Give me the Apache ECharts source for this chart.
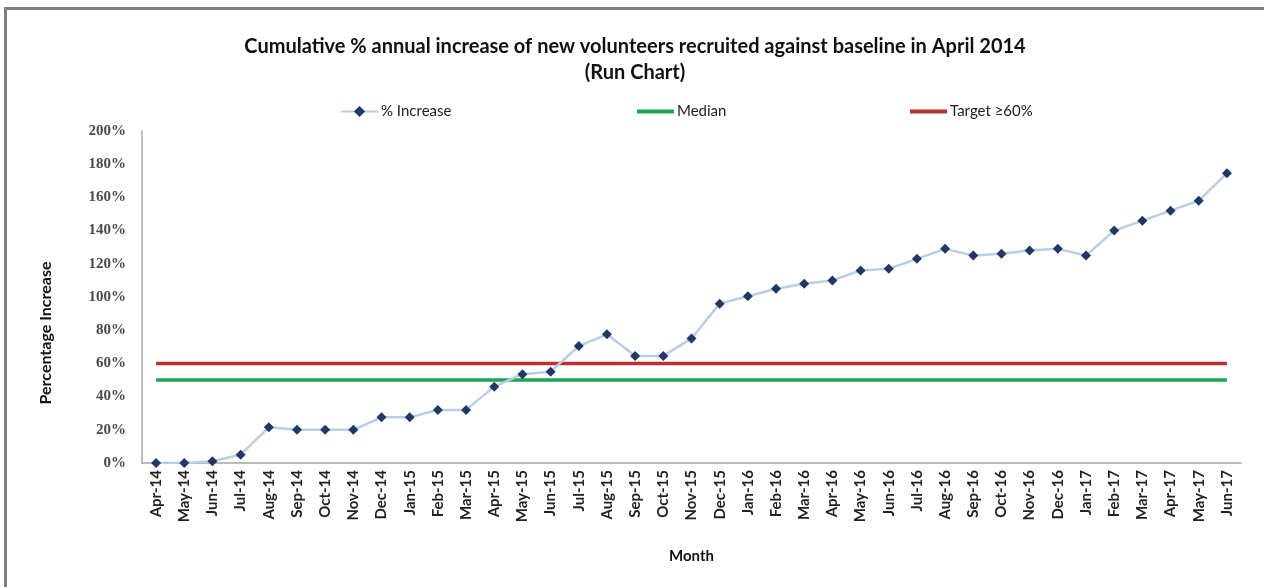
<!DOCTYPE html>
<html>
<head>
<meta charset="utf-8">
<script src="https://cdn.jsdelivr.net/npm/echarts@6/dist/echarts.min.js"></script>
<style>
  html, body { margin: 0; padding: 0; background: #fff; }
  #chart { width: 1264px; height: 587px; }
</style>
</head>
<body>
<div id="chart"></div>
<script>
// months on the x axis
const months = [
  'Apr-14', 'May-14', 'Jun-14', 'Jul-14', 'Aug-14', 'Sep-14', 'Oct-14', 'Nov-14', 'Dec-14',
  'Jan-15', 'Feb-15', 'Mar-15', 'Apr-15', 'May-15', 'Jun-15', 'Jul-15', 'Aug-15', 'Sep-15',
  'Oct-15', 'Nov-15', 'Dec-15', 'Jan-16', 'Feb-16', 'Mar-16', 'Apr-16', 'May-16', 'Jun-16',
  'Jul-16', 'Aug-16', 'Sep-16', 'Oct-16', 'Nov-16', 'Dec-16', 'Jan-17', 'Feb-17', 'Mar-17',
  'Apr-17', 'May-17', 'Jun-17'
]
// cumulative % increase
const increase = [
  0, 0, 1, 5, 21.5, 20, 20, 20, 27.5,
  27.5, 32, 32, 46, 53.5, 55, 70.5, 77.5, 64.5,
  64.5, 75, 96, 100.5, 105, 108, 110, 116, 117,
  123, 129, 125, 126, 128, 129, 125, 140, 146,
  152, 158, 174.5
]
const medianValue = 50
const targetValue = 60
const yTicks = { min: 0, max: 200, interval: 20 }

const median = months.map(() => medianValue)
const target = months.map(() => targetValue)

const font = 'Lato, "Open Sans", sans-serif'
const myChart = echarts.init(document.getElementById('chart'))

const legendText = { fontFamily: font, fontSize: 15, color: '#222', padding: [0, 0, 0, -2] }

const option = {
  animation: false,
  backgroundColor: '#fff',
  title: {
    text: 'Cumulative % annual increase of new volunteers recruited against baseline in April 2014\n(Run Chart)',
    left: 630,
    textAlign: 'center',
    top: 29,
    textStyle: {
      fontFamily: font,
      fontWeight: 'bold',
      fontSize: 20,
      lineHeight: 26,
      color: '#111'
    }
  },
  legend: [
    { data: ['% Increase'], left: 335, top: 99, itemWidth: 37, itemHeight: 14, textStyle: legendText },
    { data: [{ name: 'Median', icon: 'rect' }], left: 632, top: 99, itemWidth: 37, itemHeight: 4, textStyle: legendText },
    { data: [{ name: 'Target ≥60%', icon: 'rect' }], left: 905, top: 99, itemWidth: 37, itemHeight: 4, textStyle: legendText }
  ],
  grid: {
    left: 142,
    right: 23,
    top: 131,
    bottom: 124,
    containLabel: false
  },
  xAxis: {
    type: 'category',
    data: months,
    boundaryGap: true,
    name: 'Month',
    nameLocation: 'middle',
    nameGap: 86,
    nameTextStyle: { fontFamily: font, fontWeight: 'bold', fontSize: 15, color: '#111' },
    axisLine: { lineStyle: { color: '#a6a6a6', width: 1.5 } },
    axisTick: { show: false },
    axisLabel: {
      interval: 0,
      rotate: 90,
      margin: 7,
      fontFamily: font,
      fontWeight: 'bold',
      fontSize: 15,
      color: '#222'
    }
  },
  yAxis: {
    type: 'value',
    min: yTicks.min,
    max: yTicks.max,
    interval: yTicks.interval,
    name: 'Percentage Increase',
    nameLocation: 'middle',
    nameGap: 88,
    nameTextStyle: {
      fontFamily: font, fontWeight: 'bold', fontSize: 16, color: '#111',
      padding: [0, 72, 0, 0]
    },
    splitLine: { show: false },
    axisTick: { show: false },
    axisLine: { show: true, lineStyle: { color: '#a6a6a6', width: 1.5 } },
    axisLabel: {
      formatter: '{value}%',
      margin: 16,
      fontFamily: '"Liberation Serif", serif',
      fontWeight: 'bold',
      fontSize: 15,
      color: '#4a4a4a'
    }
  },
  series: [
    {
      name: '% Increase',
      type: 'line',
      data: increase,
      symbol: 'diamond',
      symbolSize: 10,
      z: 5,
      color: '#1f3864',
      lineStyle: { color: '#b9cde5', width: 2.5 },
      itemStyle: { color: '#1f3864' }
    },
    {
      name: 'Median',
      type: 'line',
      data: median,
      symbol: 'none',
      color: '#1fa455',
      lineStyle: { color: '#1fa455', width: 3.5 }
    },
    {
      name: 'Target ≥60%',
      type: 'line',
      data: target,
      symbol: 'none',
      color: '#b83230',
      lineStyle: { color: '#b83230', width: 3.5 }
    }
  ],
  graphic: [
    // frame of the original screenshot
    { type: 'rect', shape: { x: 4, y: 7, width: 1264, height: 3 }, style: { fill: '#7f7f7f' }, silent: true },
    { type: 'rect', shape: { x: 4, y: 7, width: 3, height: 580 }, style: { fill: '#7f7f7f' }, silent: true }
  ]
}

myChart.setOption(option)
</script>
</body>
</html>
